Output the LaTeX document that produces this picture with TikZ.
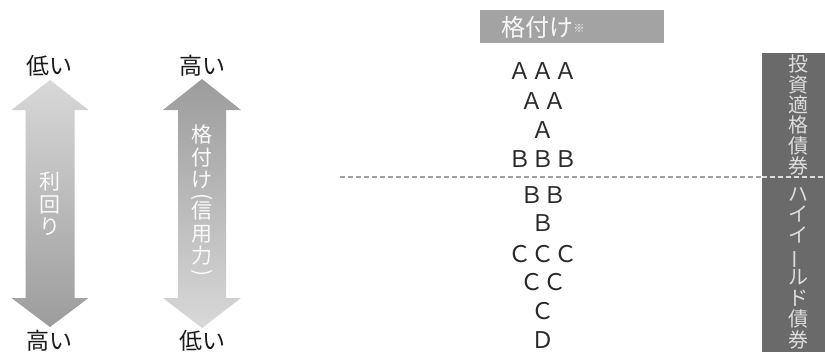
\documentclass[tikz,border=0pt]{standalone}
\usepackage{fontspec}
\setmainfont{Noto Sans CJK JP}
\definecolor{hdrc}{HTML}{A3A3A3}
\definecolor{sidec}{HTML}{6A6A6A}
\definecolor{sidetxt}{HTML}{DDDDDD}
\definecolor{labelc}{HTML}{1A1A1A}
\definecolor{ratec}{HTML}{2A2A2A}
\definecolor{dashc}{HTML}{A0A0A0}
\definecolor{dashl}{HTML}{DDDDDD}
\definecolor{arLight}{HTML}{D8D8D8}
\definecolor{arDark}{HTML}{9C9C9C}
\newcommand{\vbar}{\rotatebox[origin=c]{90}{ー}}
\newcommand{\vlp}{\rotatebox[origin=c]{-90}{(}}
\newcommand{\vrp}{\rotatebox[origin=c]{-90}{)}}
\begin{document}
\begin{tikzpicture}[x={(1pt,0pt)},y={(0pt,-1pt)},
  lbl/.style={font=\fontsize{23}{24}\selectfont, text=labelc, inner sep=0},
  rate/.style={font=\fontsize{23}{24}\selectfont, text=ratec, inner sep=0},
  vtext/.style={align=center, inner sep=0, font=\fontsize{21}{22.5}\selectfont, text=white!96!gray},
  sidetext/.style={align=center, inner sep=0, font=\fontsize{20}{20.3}\selectfont, text=sidetxt},
  hdrtext/.style={font=\fontsize{24}{25}\selectfont, text=white!94!gray, inner sep=0},
  dashdark/.style={draw=dashc, line width=2.2pt, dash pattern=on 5pt off 3pt},
  dashlight/.style={draw=dashl, line width=2.2pt, dash pattern=on 5pt off 3pt}]
\useasboundingbox (0,0) rectangle (825,351);

% left arrows
\shade[top color=arLight, bottom color=arDark]
  (50,80) -- (88.5,110) -- (74.5,110) -- (74.5,298) -- (88.5,298) -- (50,327)
  -- (11.5,298) -- (25.5,298) -- (25.5,110) -- (11.5,110) -- cycle;
\shade[top color=arDark, bottom color=arLight]
  (202,79) -- (241,110) -- (226,110) -- (226,298) -- (241,298) -- (202,328)
  -- (163,298) -- (178,298) -- (178,110) -- (163,110) -- cycle;
\node[vtext] (yield) at (50,204) {利\\回\\り};
\node[vtext] (rating) at (202,202) {格\\付\\け\\[-7pt]\vlp\\[-7pt]信\\用\\力\\[-7pt]\vrp};

\node[lbl] (l1top) at (50,66) {低い};
\node[lbl] (l2top) at (202,66) {高い};
\node[lbl] (l1bot) at (50,341) {高い};
\node[lbl] (l2bot) at (202,341) {低い};

% header
\fill[hdrc] (480,10) rectangle (664,43);
\node[hdrtext] (hdr) at (543,27) {格付け\raisebox{4pt}{\fontsize{11}{11}\selectfont ※}};

% right box
\fill[sidec] (762,53) rectangle (826,352);
\node[sidetext] (ig) at (798,115) {投\\資\\適\\格\\債\\券};
\node[sidetext, font=\fontsize{20}{20.9}\selectfont] (hy) at (798,268) {ハ\\イ\\イ\\\vbar\\ル\\ド\\債\\券};

% dashed divider
\coordinate (dl) at (340,177);
\coordinate (dm) at (762,177);
\coordinate (dr) at (826,177);
\draw[dashdark] (dl) -- (dm);
\draw[dashlight] (dm) -- (dr);

% ratings
\node[rate] (r1) at (543,71) {ＡＡＡ};
\node[rate] (r2) at (543,101) {ＡＡ};
\node[rate] (r3) at (543,130) {Ａ};
\node[rate] (r4) at (543,159) {ＢＢＢ};
\node[rate] (r5) at (543,195) {ＢＢ};
\node[rate] (r6) at (543,223) {Ｂ};
\node[rate] (r7) at (543,254) {ＣＣＣ};
\node[rate] (r8) at (543,282) {ＣＣ};
\node[rate] (r9) at (543,311) {Ｃ};
\node[rate] (r10) at (543,340) {Ｄ};
\end{tikzpicture}
\end{document}
